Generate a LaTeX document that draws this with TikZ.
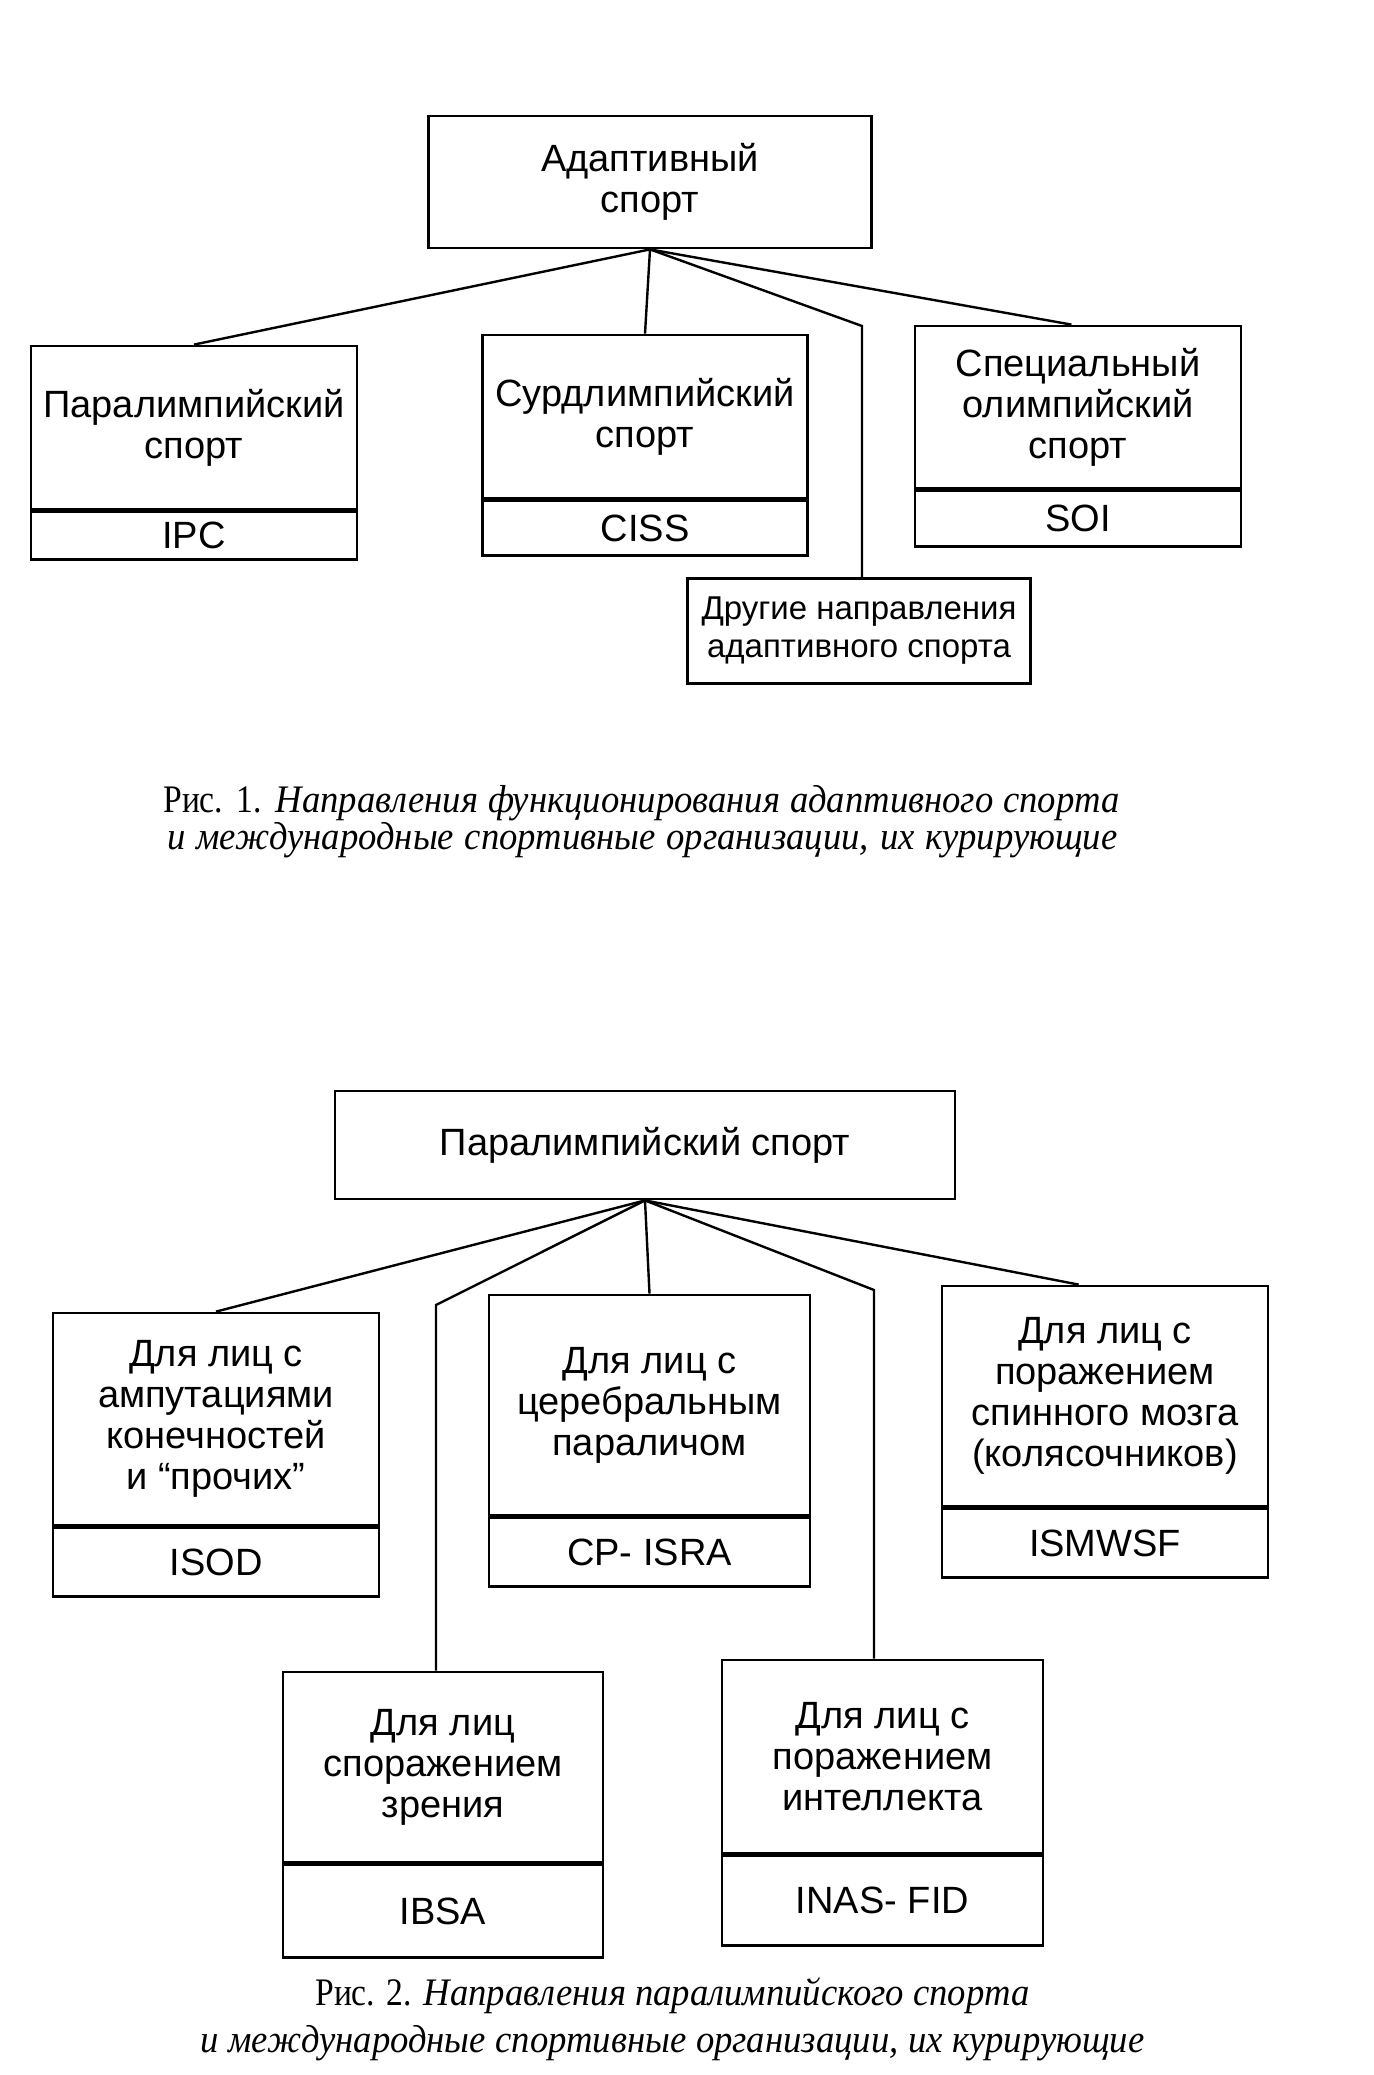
\documentclass[tikz,border=0pt]{standalone}
\usepackage{fontspec}
\newfontfamily\boxfont{Liberation Sans}
\newfontfamily\capup[FakeStretch=0.86]{Liberation Serif}
\newfontfamily\capit[FakeStretch=0.94]{Liberation Serif}
\newcommand\figlabel[1]{{\capup Рис. #1.}}
\usetikzlibrary{positioning,calc}

\begin{document}
\begin{tikzpicture}[
    x=0.5pt, y=-0.5pt,
    dirbox/.style={
        draw,
        line width=1.4pt,  % thick frame as in the print
        align=center,
        inner sep=0pt,
        font=\boxfont\fontsize{19}{20.5}\selectfont
    },
    orgbox/.style={dirbox, below=0pt of #1},  % lower cell with the organisation
    link/.style={line width=1.2pt},
    caption/.style={inner sep=0pt, anchor=base west, font=\capit\fontsize{19.5}{21}\selectfont}
]
\fill[white] (0,0) rectangle (1373,2075);
\useasboundingbox (0,0) rectangle (1373,2075);

% --- Fig. 1
\node[dirbox, minimum width=221.5pt, minimum height=66pt] (adapt) at (650,182) {Адаптивный\\спорт};

\node[dirbox, minimum width=163pt, minimum height=81.5pt] (para) at (194,427.5) {Паралимпийский\\спорт};
\node[orgbox=para, minimum width=163pt, minimum height=24pt] (ipc) {IPC};

\node[dirbox, minimum width=162.5pt, minimum height=81.5pt] (surd) at (645,416.5) {Сурдлимпийский\\спорт};
\node[orgbox=surd, minimum width=162.5pt, minimum height=27.5pt] (ciss) {CISS};

\node[dirbox, minimum width=163pt, minimum height=81pt] (soi) at (1078,407) {Специальный\\олимпийский\\спорт};
\node[orgbox=soi, minimum width=163pt, minimum height=28pt] (soiorg) {SOI};

\node[dirbox, minimum width=171.5pt, minimum height=52.5pt,
      font=\boxfont\fontsize{16.5}{19}\selectfont] (other) at (859,631) {Другие направления\\адаптивного спорта};

\coordinate (otherbend) at (862,326);
\draw[link] (adapt.south) -- (para.north);
\draw[link] (adapt.south) -- (surd.north);
\draw[link] (adapt.south) -- (otherbend) -- (otherbend |- other.north);
\draw[link] (adapt.south) -- ($(soi.north west)!0.48!(soi.north east)$);

\node[caption] (cap1a) at (163,812) {\makebox[478pt][s]{\figlabel{1} \itshape Направления функционирования адаптивного спорта}};
\node[caption] (cap1b) at (167,849) {\makebox[475pt][s]{\itshape и международные спортивные организации, их курирующие}};

% --- Fig. 2
\node[dirbox, minimum width=310pt, minimum height=54pt] (ptop) at (645,1145) {Паралимпийский спорт};

\node[dirbox, minimum width=163pt, minimum height=106pt] (amp) at (216,1419) {Для лиц с\\ампутациями\\конечностей\\и “прочих”};
\node[orgbox=amp, minimum width=163pt, minimum height=34.5pt] (isod) {ISOD};

\node[dirbox, minimum width=160.5pt, minimum height=110pt] (cer) at (649.5,1405) {Для лиц с\\церебральным\\параличом};
\node[orgbox=cer, minimum width=160.5pt, minimum height=34.5pt] (cpisra) {CP- ISRA};

\node[dirbox, minimum width=163pt, minimum height=110pt] (spin) at (1105,1396) {Для лиц с\\поражением\\спинного мозга\\(колясочников)};
\node[orgbox=spin, minimum width=163pt, minimum height=34.5pt] (ismwsf) {ISMWSF};

\node[dirbox, minimum width=160pt, minimum height=95pt] (vis) at (443,1767) {Для лиц\\споражением\\зрения};
\node[orgbox=vis, minimum width=160pt, minimum height=46.5pt] (ibsa) {IBSA};

\node[dirbox, minimum width=160.5pt, minimum height=96.5pt] (intel) at (882.5,1756.5) {Для лиц с\\поражением\\интеллекта};
\node[orgbox=intel, minimum width=160.5pt, minimum height=45pt] (inas) {INAS- FID};

\coordinate (visbend) at (436,1305);
\coordinate (intbend) at (874,1290);
\draw[link] (ptop.south) -- (amp.north);
\draw[link] (ptop.south) -- (visbend) -- (visbend |- vis.north);
\draw[link] (ptop.south) -- (cer.north);
\draw[link] (ptop.south) -- (intbend) -- (intbend |- intel.north);
\draw[link] (ptop.south) -- ($(spin.north west)!0.42!(spin.north east)$);

\node[caption] (cap2a) at (315,2005) {\makebox[357pt][s]{\figlabel{2} \itshape Направления паралимпийского спорта}};
\node[caption] (cap2b) at (200,2052) {\makebox[472pt][s]{\itshape и международные спортивные организации, их курирующие}};
\end{tikzpicture}
\end{document}
